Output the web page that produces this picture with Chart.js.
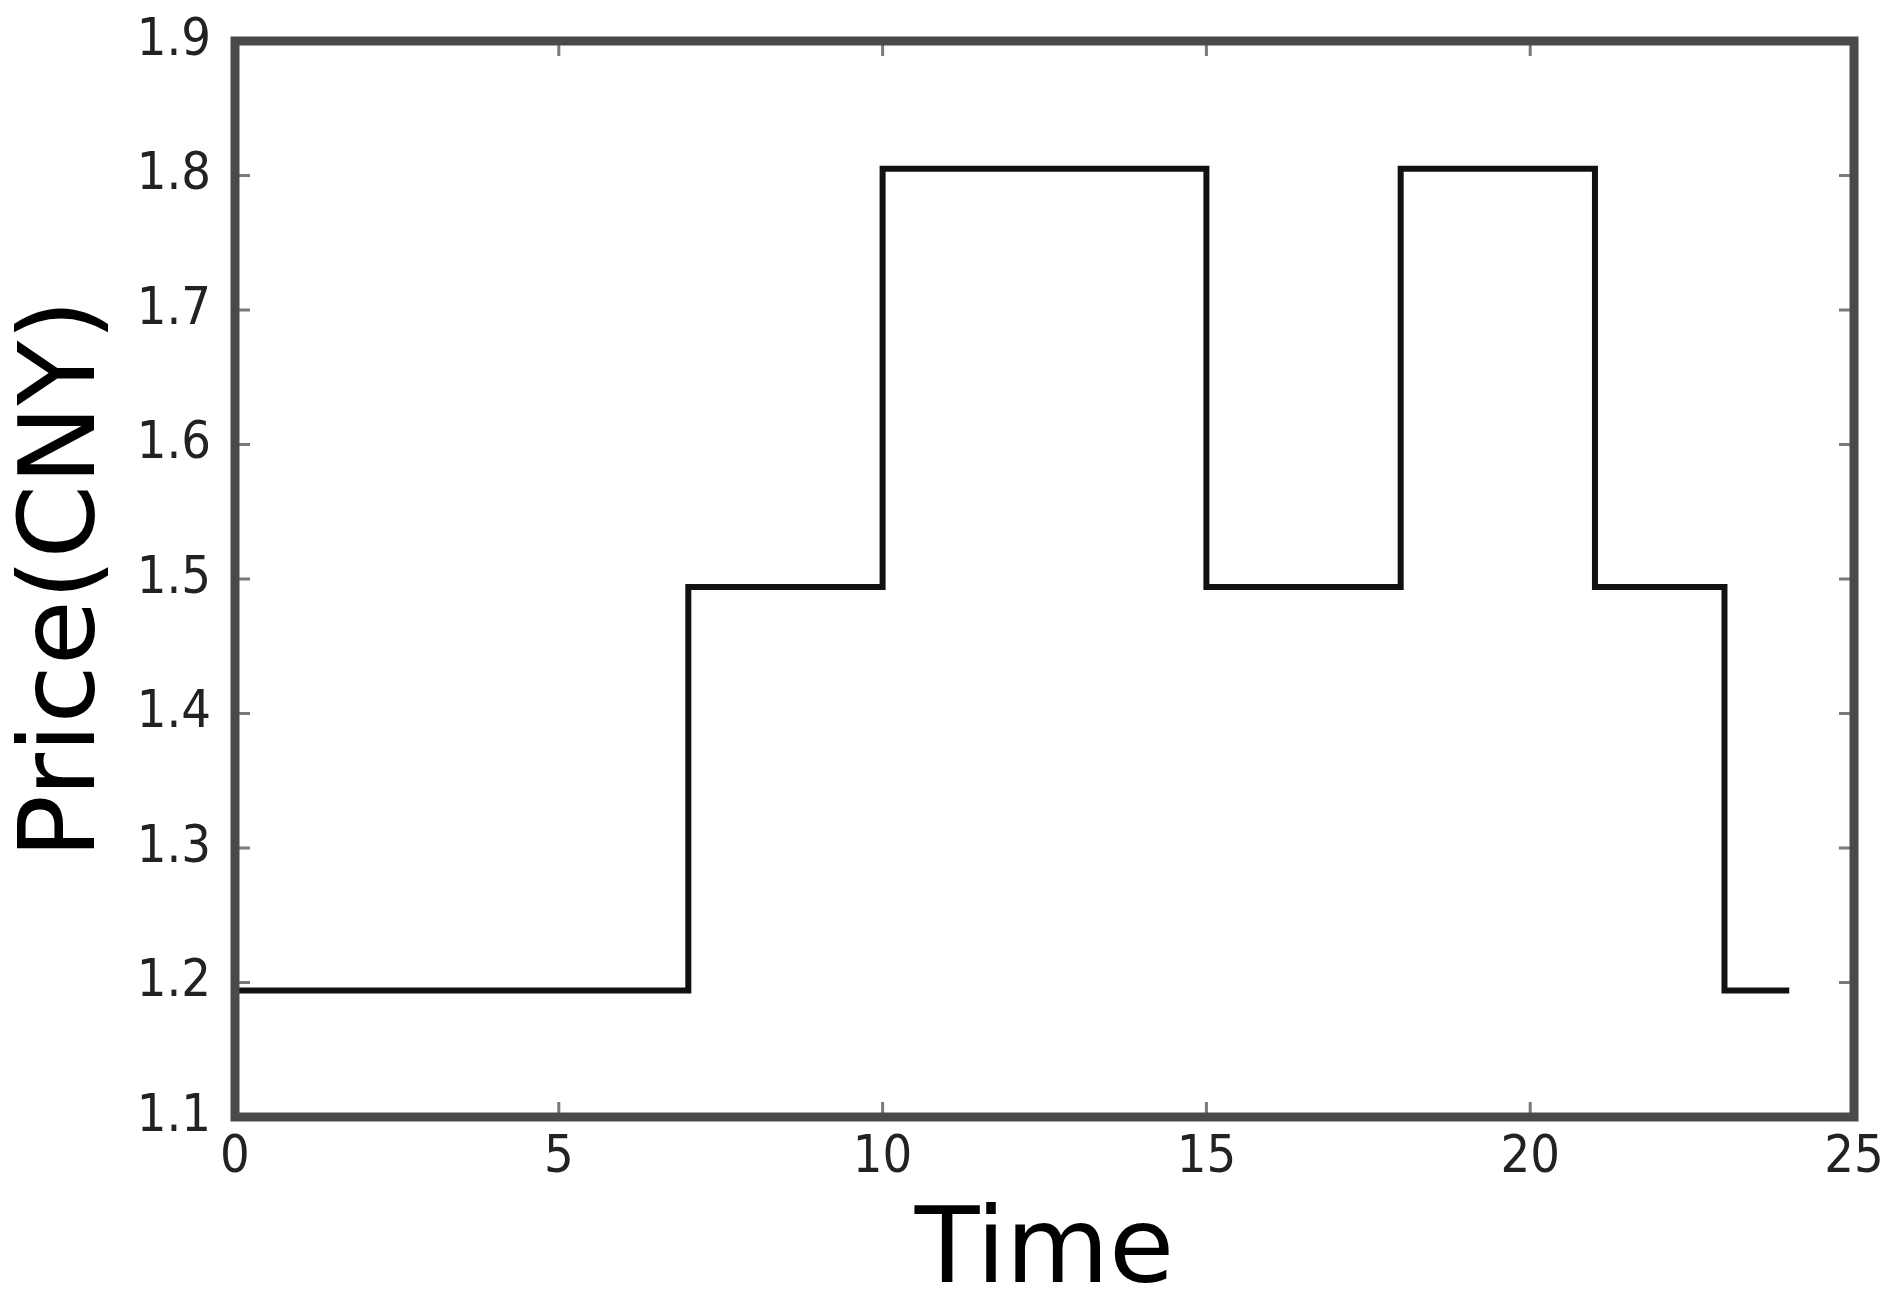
<!DOCTYPE html>
<html>
<head>
<meta charset="utf-8">
<script src="https://cdn.jsdelivr.net/npm/chart.js@4/dist/chart.umd.min.js"></script>
<style>
  html, body { margin: 0; padding: 0; background: #fff; }
  canvas { display: block; }
</style>
</head>
<body>
<canvas id="priceChart" width="1898" height="1307"></canvas>
<script>
// hourly tariff, value holds until the next change
const times = [0, 7, 10, 15, 18, 21, 23, 24];
const prices = [1.194, 1.494, 1.805, 1.494, 1.805, 1.494, 1.194, 1.194];
const xTicks = [0, 5, 10, 15, 20, 25];
const yTicks = [1.1, 1.2, 1.3, 1.4, 1.5, 1.6, 1.7, 1.8, 1.9];
const yTickLabels = ['1.1', '1.2', '1.3', '1.4', '1.5', '1.6', '1.7', '1.8', '1.9'];

const tickFont = { family: '"DejaVu Sans Condensed", "DejaVu Sans", sans-serif', size: 52 };
const titleFont = { family: '"DejaVu Sans", sans-serif', size: 106, lineHeight: 1 };

// matplotlib-classic look: dark frame with inward ticks on all four sides
const framePlugin = {
    id: 'frame',
    afterDatasetsDraw(chart) {
        const { ctx, chartArea: a, scales } = chart;
        ctx.save();
        ctx.strokeStyle = '#7a7a7a';
        ctx.lineWidth = 3;
        const len = 15;
        scales.x.ticks.forEach(t => {
            const px = scales.x.getPixelForValue(t.value);
            ctx.beginPath();
            ctx.moveTo(px, a.bottom); ctx.lineTo(px, a.bottom - len);
            ctx.moveTo(px, a.top); ctx.lineTo(px, a.top + len);
            ctx.stroke();
        });
        scales.y.ticks.forEach(t => {
            const py = scales.y.getPixelForValue(t.value);
            ctx.beginPath();
            ctx.moveTo(a.left, py); ctx.lineTo(a.left + len, py);
            ctx.moveTo(a.right, py); ctx.lineTo(a.right - len, py);
            ctx.stroke();
        });
        ctx.strokeStyle = '#4a4a4a';
        ctx.lineWidth = 9;
        ctx.strokeRect(a.left, a.top, a.right - a.left, a.bottom - a.top);
        ctx.restore();
    }
};

new Chart(document.getElementById('priceChart'), {
    type: 'line',
    data: {
        datasets: [{
            data: times.map((t, i) => ({ x: t, y: prices[i] })),
            stepped: 'before',
            borderColor: '#111',
            borderWidth: 6,
            pointRadius: 0,
            fill: false
        }]
    },
    options: {
        responsive: false,
        animation: false,
        devicePixelRatio: 1,
        layout: { padding: { top: 41, right: 44, left: 0, bottom: 0 } },
        plugins: { legend: { display: false }, tooltip: { enabled: false } },
        scales: {
            x: {
                type: 'linear',
                min: 0,
                max: 25,
                afterBuildTicks: s => { s.ticks = xTicks.map(v => ({ value: v })); },
                afterFit: s => { s.height = 190; s.paddingLeft = 0; s.paddingRight = 0; },
                grid: { display: false, drawTicks: false },
                border: { display: false },
                ticks: { font: tickFont, color: '#222', padding: 10, maxRotation: 0 },
                title: { display: true, text: 'Time', font: titleFont, color: '#000', padding: { top: 0, bottom: 0 } }
            },
            y: {
                type: 'linear',
                min: 1.1,
                max: 1.9,
                afterBuildTicks: s => { s.ticks = yTicks.map(v => ({ value: v })); },
                afterFit: s => { s.width = 235; s.paddingTop = 0; s.paddingBottom = 0; },
                grid: { display: false, drawTicks: false },
                border: { display: false },
                ticks: {
                    font: tickFont,
                    color: '#222',
                    padding: 24,
                    callback: (v) => yTickLabels[yTicks.indexOf(Math.round(v * 10) / 10)]
                },
                title: { display: true, text: 'Price(CNY)', font: titleFont, color: '#000', padding: { top: 13, bottom: 0 } }
            }
        }
    },
    plugins: [framePlugin]
});
</script>
</body>
</html>
